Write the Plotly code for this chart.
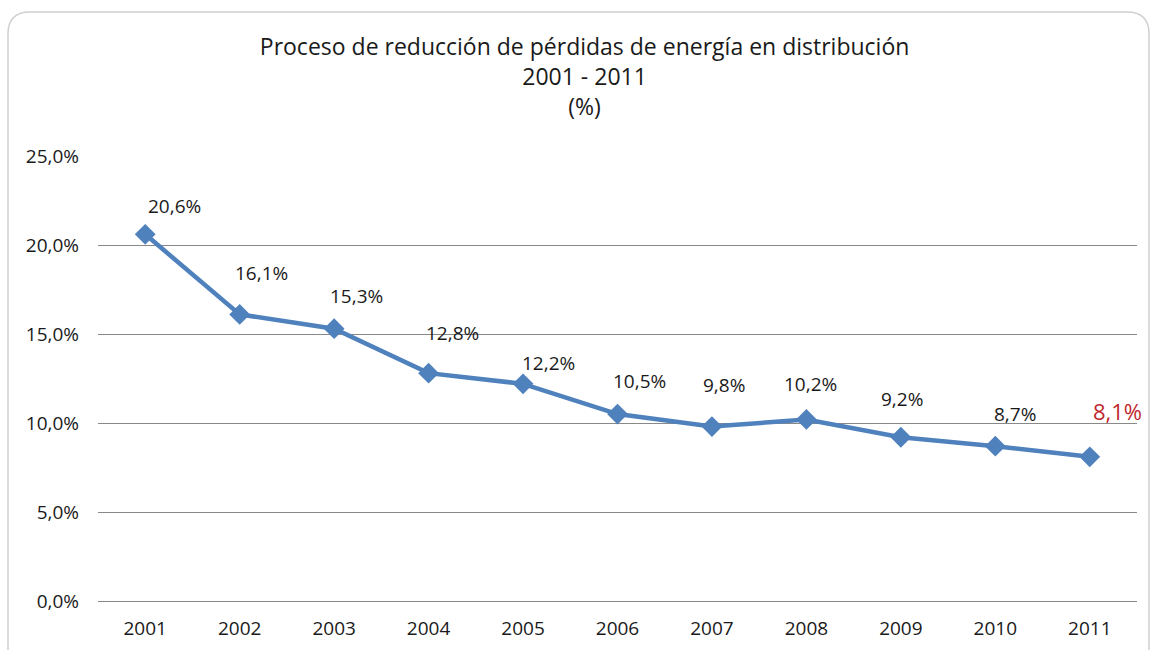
import plotly.graph_objects as go

years = ["2001", "2002", "2003", "2004", "2005", "2006", "2007", "2008", "2009", "2010", "2011"]
losses = [20.6, 16.1, 15.3, 12.8, 12.2, 10.5, 9.8, 10.2, 9.2, 8.7, 8.1]
labels = ["20,6%", "16,1%", "15,3%", "12,8%", "12,2%", "10,5%", "9,8%", "10,2%", "9,2%", "8,7%", "8,1%"]
ytick_vals = [0, 5, 10, 15, 20, 25]
ytick_text = ["0,0%", "5,0%", "10,0%", "15,0%", "20,0%", "25,0%"]

# label placement offsets (pixels)
lab_dx = [29, 22, 22, 24, 25, 22, 12, 4, 1, 20, 28]
lab_dy = [28, 41, 33, 40, 21, 33, 42, 35, 38, 32, 46]

FONT = "Open Sans"
W, H = 1153, 650
ML, MR, MT, MB = 98, 16, 156, 49
PW, PH = W - ML - MR, H - MT - MB

fig = go.Figure()
fig.add_trace(go.Scatter(
    x=years, y=losses, mode="lines+markers",
    line=dict(color="#4F81BD", width=4.5),
    marker=dict(symbol="diamond", size=16, color="#4F81BD"),
    hoverinfo="skip", showlegend=False,
))

for i, (v, t) in enumerate(zip(losses, labels)):
    last = i == len(years) - 1
    fig.add_annotation(
        x=i, y=v, text=t, showarrow=False,
        xshift=lab_dx[i], yshift=lab_dy[i],
        font=dict(family=FONT, size=22 if last else 19,
                  color="#C0282D" if last else "#1a1a1a"),
    )

# rounded chart frame
def px(x):
    return (x - ML) / PW

def py(y):
    return 1 - (y - MT) / PH

x0, y0, x1, y1, r = 8, 12, 1149, 660, 22
path = (
    f"M {px(x0)},{py(y1)} L {px(x0)},{py(y0 + r)} "
    f"Q {px(x0)},{py(y0)} {px(x0 + r)},{py(y0)} "
    f"L {px(x1 - r)},{py(y0)} Q {px(x1)},{py(y0)} {px(x1)},{py(y0 + r)} "
    f"L {px(x1)},{py(y1)}"
)
fig.add_shape(type="path", xref="paper", yref="paper", path=path,
              line=dict(color="#D0D0D0", width=1.5), layer="below")

fig.update_layout(
    width=W, height=H,
    margin=dict(l=ML, r=MR, t=MT, b=MB, autoexpand=False),
    paper_bgcolor="white", plot_bgcolor="white",
    font=dict(family=FONT, size=19, color="#1a1a1a"),
    title=dict(
        text="Proceso de reducción de pérdidas de energía en distribución<br>2001 - 2011<br>(%)",
        x=0.507, xanchor="center", yref="container", y=1 - 55 / H, yanchor="top",
        font=dict(family=FONT, size=23, color="#1a1a1a"),
    ),
    xaxis=dict(type="category", range=[-0.5, len(years) - 0.5], automargin=False,
               showgrid=False, showline=False, zeroline=False,
               ticks="", ticklabelstandoff=14,
               tickfont=dict(family=FONT, size=19)),
    yaxis=dict(range=[0, 25], tickvals=ytick_vals, ticktext=ytick_text, automargin=False,
               showgrid=True, gridcolor="#898989", gridwidth=1,
               zeroline=True, zerolinecolor="#898989", zerolinewidth=1,
               showline=False, ticks="", ticklabelstandoff=18,
               tickfont=dict(family=FONT, size=19)),
)

fig.write_html(
    "out.html",
    config={"displayModeBar": False},
    post_script="document.body.style.margin='0px';document.body.style.overflow='hidden';",
)
